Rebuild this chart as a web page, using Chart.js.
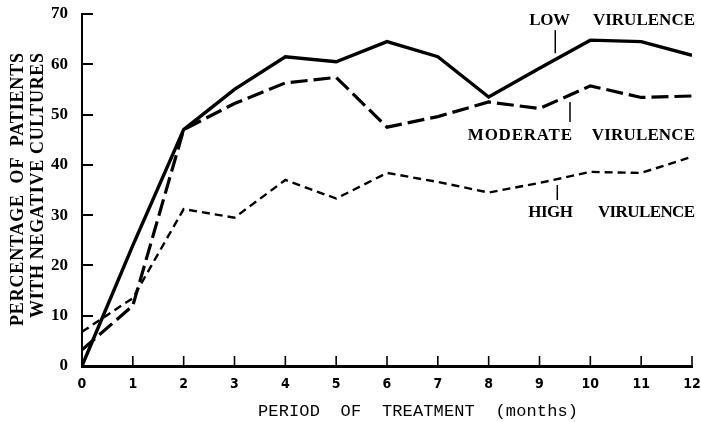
<!DOCTYPE html>
<html><head><meta charset="utf-8">
<script src="https://cdn.jsdelivr.net/npm/chart.js@4/dist/chart.umd.min.js"></script>
<style>html,body{margin:0;padding:0;background:#fff;}canvas{display:block;}</style>
</head><body>
<canvas id="c" width="701" height="422"></canvas>
<script>
// ---- data ----
const months = [0,1,2,3,4,5,6,7,8,9,10,11,12];
const xTickLabels = ['0','1','2','3','4','5','6','7','8','9','10','11','12'];
const yTickValues = [0,10,20,30,40,50,60,70];
const lowVirulence      = [0, 24, 47, 55, 61.5, 60.5, 64.5, 61.5, 53.5, 59.2, 64.8, 64.5, 61.8];
const moderateVirulence = [3.2, 12, 47, 52.2, 56.3, 57.4, 47.5, 49.6, 52.5, 51.2, 55.7, 53.4, 53.7];
const highVirulence     = [6.8, 13.5, 31.2, 29.5, 37, 33.3, 38.4, 36.6, 34.5, 36.4, 38.6, 38.4, 41.6];
const seriesNames = ['LOW', 'MODERATE', 'HIGH'];
const yTitleLines = ['PERCENTAGE  OF  PATIENTS', 'WITH NEGATIVE CULTURES'];
const xTitle = 'PERIOD  OF  TREATMENT  (months)';

// ---- annotation placement (data coordinates) ----
const labelPlacement = [
  {name: 0, x1: 8.80, x1End: 9.60, x2: 10.05, x2End: 12.06, base: 67.8, leadX: 9.31, leadTop: 66.8, leadBot: 62.2},
  {name: 1, x1: 7.59, x1End: 9.64, x2: 10.03, x2End: 12.06, base: 44.9, leadX: 9.60, leadTop: 52.5, leadBot: 48.5},
  {name: 2, x1: 8.78, x1End: 9.66, x2: 10.15, x2End: 12.06, base: 29.6, leadX: 9.35, leadTop: 36.0, leadBot: 33.0}
];

function toPts(arr){ return months.map((m,i)=>({x:m, y:arr[i]})); }

function fitText(ctx, text, x, y, width){
  ctx.letterSpacing = '0px';
  const w = ctx.measureText(text).width;
  const n = text.length;
  if ('letterSpacing' in ctx) {
    const ls = (width - w) / (n - 1);
    ctx.letterSpacing = ls + 'px';
    ctx.fillText(text, x, y);
    ctx.letterSpacing = '0px';
  } else {
    ctx.save(); ctx.translate(x, y); ctx.scale(width / w, 1); ctx.fillText(text, 0, 0); ctx.restore();
  }
}

const overlay = {
  id: 'overlay',
  afterDraw(chart){
    const ctx = chart.ctx, xs = chart.scales.x, ys = chart.scales.y;
    const ca = chart.chartArea;
    ctx.save();
    ctx.strokeStyle = '#000'; ctx.fillStyle = '#000';
    // inside tick marks
    ctx.lineWidth = 2;
    yTickValues.forEach(v => {
      if (v === 0) return;
      const py = Math.round(ys.getPixelForValue(v));
      ctx.beginPath(); ctx.moveTo(ca.left, py); ctx.lineTo(ca.left + 11, py); ctx.stroke();
    });
    ctx.lineWidth = 1.6;
    months.forEach(m => {
      if (m === 0) return;
      const px = xs.getPixelForValue(m);
      ctx.beginPath(); ctx.moveTo(px, ca.bottom); ctx.lineTo(px, ca.bottom - 10); ctx.stroke();
    });
    // series labels and leaders
    ctx.font = 'bold 17px "Liberation Serif", serif';
    ctx.textBaseline = 'alphabetic'; ctx.textAlign = 'left';
    labelPlacement.forEach(p => {
      const by = ys.getPixelForValue(p.base);
      const a = xs.getPixelForValue(p.x1), b = xs.getPixelForValue(p.x1End);
      fitText(ctx, seriesNames[p.name], a, by, b - a);
      const c = xs.getPixelForValue(p.x2), d = xs.getPixelForValue(p.x2End);
      fitText(ctx, 'VIRULENCE', c, by, d - c);
      ctx.lineWidth = 1.5;
      const lx = xs.getPixelForValue(p.leadX);
      ctx.beginPath(); ctx.moveTo(lx, ys.getPixelForValue(p.leadTop)); ctx.lineTo(lx, ys.getPixelForValue(p.leadBot)); ctx.stroke();
    });
    // y axis title (two rotated lines)
    ctx.font = 'bold 18px "Liberation Serif", serif';
    ctx.textBaseline = 'middle';
    const yLines = [{cx: 18.5, top: 53, bottom: 326}, {cx: 38.5, top: 53, bottom: 318}];
    yTitleLines.forEach((t, i) => {
      const L = yLines[i];
      ctx.save();
      ctx.translate(L.cx, L.bottom);
      ctx.rotate(-Math.PI / 2);
      fitText(ctx, t, 0, 0, L.bottom - L.top);
      ctx.restore();
    });
    // x axis title
    ctx.font = '17px "Liberation Mono", "DejaVu Sans Mono", monospace';
    ctx.textBaseline = 'middle';
    fitText(ctx, xTitle, 258, 411, 320);
    ctx.restore();
  }
};

new Chart(document.getElementById('c'), {
  type: 'line',
  data: {
    datasets: [
      {label: 'Low virulence', data: toPts(lowVirulence), borderColor: '#000', borderWidth: 3.4, pointRadius: 0, tension: 0, fill: false},
      {label: 'Moderate virulence', data: toPts(moderateVirulence), borderColor: '#000', borderWidth: 3.2, borderDash: [17, 6], pointRadius: 0, tension: 0, fill: false},
      {label: 'High virulence', data: toPts(highVirulence), borderColor: '#000', borderWidth: 2.4, borderDash: [8, 5], pointRadius: 0, tension: 0, fill: false}
    ]
  },
  options: {
    responsive: false, animation: false, devicePixelRatio: 1,
    layout: {padding: {top: 14, right: 9, left: 0, bottom: 0}},
    plugins: {legend: {display: false}, tooltip: {enabled: false}, title: {display: false}},
    scales: {
      x: {
        type: 'linear', min: 0, max: 12,
        afterFit(s){ s.height = 56; s.paddingLeft = 0; s.paddingRight = 0; },
        grid: {display: false, drawTicks: false},
        border: {display: true, color: '#000', width: 3},
        ticks: {stepSize: 1, padding: 10, color: '#000', autoSkip: false, maxRotation: 0,
                font: {family: '"Liberation Sans Narrow", "DejaVu Sans Condensed", sans-serif', size: 14, weight: 'bold'},
                callback: (v) => xTickLabels[months.indexOf(v)]}
      },
      y: {
        min: 0, max: 70,
        afterFit(s){ s.width = 82; s.paddingTop = 0; s.paddingBottom = 0; },
        grid: {display: false, drawTicks: false},
        border: {display: true, color: '#000', width: 2},
        ticks: {stepSize: 10, padding: 14, color: '#000',
                font: {family: '"Liberation Serif", serif', size: 17, weight: 'bold'},
                callback: (v) => yTickValues.includes(v) ? String(v) : ''}
      }
    }
  },
  plugins: [overlay]
});
</script>
</body></html>
